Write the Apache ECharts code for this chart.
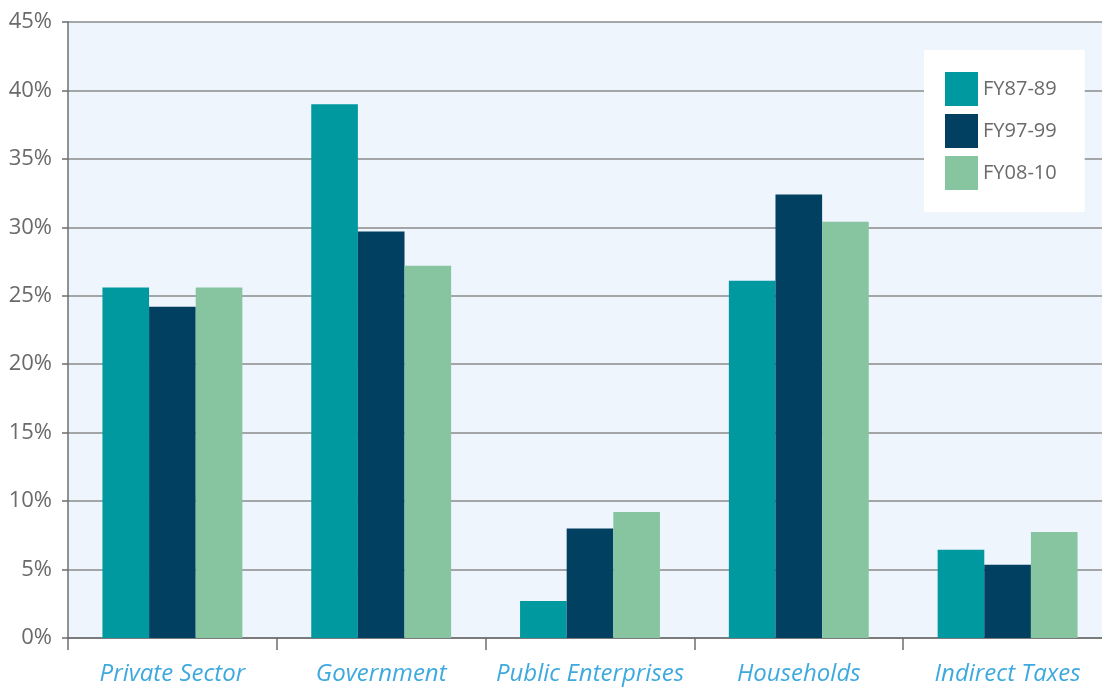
<!DOCTYPE html>
<html>
<head>
<meta charset="utf-8">
<script src="https://cdn.jsdelivr.net/npm/echarts@6/dist/echarts.min.js"></script>
<style>
html,body{margin:0;padding:0;background:#fff;}
#chart{width:1102px;height:688px;}
</style>
</head>
<body>
<div id="chart"></div>
<script>
const categories = ["Private Sector", "Government", "Public Enterprises", "Households", "Indirect Taxes"];
const seriesNames = ["FY87-89", "FY97-99", "FY08-10"];
const fy8789 = [25.6, 39.0, 2.7, 26.1, 6.45];
const fy9799 = [24.2, 29.7, 8.0, 32.4, 5.35];
const fy0810 = [25.6, 27.2, 9.2, 30.4, 7.75];
const colors = ["#0099A0", "#024062", "#87C5A0"];
const seriesValues = [fy8789, fy9799, fy0810];

const chart = echarts.init(document.getElementById('chart'), null, {renderer: 'canvas'});
const fontFamily = '"Open Sans", "Noto Sans", sans-serif';
chart.setOption({
  animation: false,
  textStyle: {fontFamily: fontFamily},
  grid: {
    left: 68, top: 22, width: 1044, bottom: 50,
    outerBoundsMode: 'none',
    containLabel: false,
    show: true, backgroundColor: '#EEF5FC', borderWidth: 0
  },
  legend: {
    orient: 'vertical',
    left: 924, top: 50,
    backgroundColor: '#ffffff',
    padding: [22, 28, 22, 21],
    itemWidth: 33, itemHeight: 34, itemGap: 8,
    icon: 'rect',
    textStyle: {fontSize: 20, color: '#6a6a6a', fontFamily: fontFamily},
    data: seriesNames
  },
  xAxis: {
    type: 'category',
    data: categories,
    axisLine: {show: true, lineStyle: {color: '#6e6e6e', width: 1.5}},
    axisTick: {show: true, length: 12, alignWithLabel: false, lineStyle: {color: '#6e6e6e', width: 1.5}},
    axisLabel: {
      interval: 0, margin: 24, fontSize: 24, fontStyle: 'italic', color: '#3DA9DE', fontFamily: fontFamily
    },
    splitLine: {show: false}
  },
  yAxis: {
    type: 'value',
    min: 0, max: 45, interval: 5,
    axisLine: {show: true, lineStyle: {color: '#6e6e6e', width: 1.5}},
    axisTick: {show: true, length: 6, lineStyle: {color: '#6e6e6e', width: 1.5}},
    axisLabel: {
      formatter: '{value}%', margin: 16, fontSize: 22, color: '#6a6a6a', fontFamily: fontFamily
    },
    splitLine: {show: true, lineStyle: {color: '#8a8a8a', width: 1.5}}
  },
  series: seriesNames.map((n, i) => ({
    name: n,
    type: 'bar',
    data: seriesValues[i],
    itemStyle: {color: colors[i]},
    barGap: '0%',
    barCategoryGap: '33%'
  }))
});
</script>
</body>
</html>
